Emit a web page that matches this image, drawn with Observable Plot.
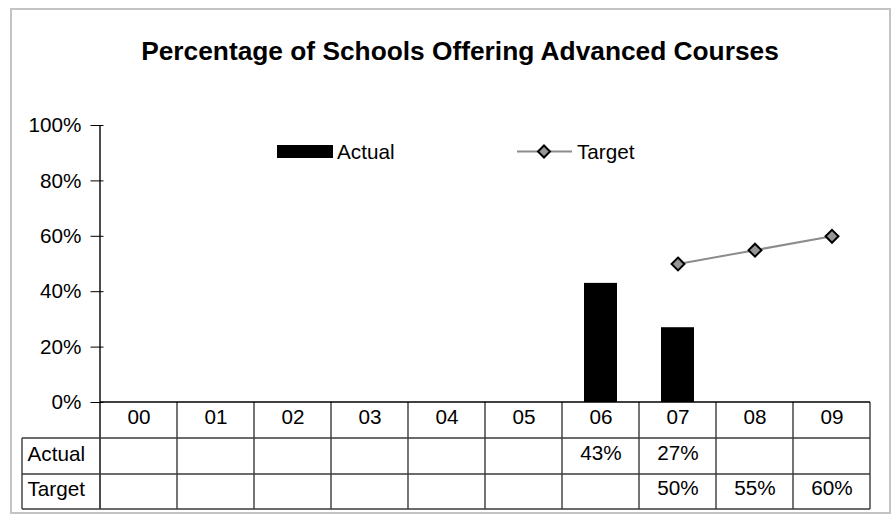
<!DOCTYPE html>
<html>
<head>
<meta charset="utf-8">
<script src="https://cdn.jsdelivr.net/npm/d3@7"></script>
<script src="https://cdn.jsdelivr.net/npm/@observablehq/plot@0.6"></script>
<style>
  html, body { margin: 0; padding: 0; background: #fff; }
  #chart { width: 894px; height: 517px; }
</style>
</head>
<body>
<div id="chart"></div>
<script>
// ---- data ----
const categories = ["00", "01", "02", "03", "04", "05", "06", "07", "08", "09"];
const actual = [null, null, null, null, null, null, 0.43, 0.27, null, null];
const target = [null, null, null, null, null, null, null, 0.50, 0.55, 0.60];
const yTicks = [0, 0.2, 0.4, 0.6, 0.8, 1.0];
const rowLabels = ["Actual", "Target"];
const seriesNames = ["Actual", "Target"];
const titleText = "Percentage of Schools Offering Advanced Courses";

const rows = categories.map((c, i) => ({ cat: c, actual: actual[i], target: target[i] }));
const pct = d3.format(".0%");

// ---- layout ----
const W = 894, H = 517;
const plotLeft = 97, plotRight = 872, plotTop = 125, plotBottom = 402;
const rowEdges = [402, 438, 474, 509]; // header / Actual / Target rows
const tableLeft = 22;
const textShift = 3;
const font = "Arial, 'Liberation Sans', Helvetica, sans-serif";
const fs = 20.7;
const gridColor = "#3a3a3a";
const rowMid = i => (rowEdges[i] + rowEdges[i + 1]) / 2 - plotBottom + textShift;

const chart = Plot.plot({
  width: W,
  height: H,
  marginLeft: plotLeft,
  marginRight: W - plotRight,
  marginTop: plotTop,
  marginBottom: H - plotBottom,
  style: { fontFamily: font, fontSize: fs + "px", background: "white", color: "black", overflow: "visible" },
  x: { domain: categories, padding: 0, axis: null },
  y: { domain: [0, 1], axis: null },
  marks: [
    Plot.barY(rows.filter(d => d.actual != null), {
      x: "cat", y: "actual", fill: "black", insetLeft: 22, insetRight: 22
    }),
    Plot.line(rows.filter(d => d.target != null), {
      x: "cat", y: "target", stroke: "#8c8c8c", strokeWidth: 2
    }),
    Plot.dot(rows.filter(d => d.target != null), {
      x: "cat", y: "target", symbol: "diamond2", r: 5.8, fill: "#969696", stroke: "black", strokeWidth: 2
    }),
    // cross ticks on y axis
    Plot.axisY(yTicks, { tickSize: 13, dx: 6.5, tickFormat: () => "", stroke: "black" }),
    // y tick labels
    Plot.axisY(yTicks, { tickSize: 0, tickPadding: 16, tickFormat: pct, fontSize: fs }),
    // table: category header row
    Plot.text(rows, { x: "cat", text: "cat", frameAnchor: "bottom", dy: rowMid(0), fontSize: fs }),
    // table: actual row
    Plot.text(rows, {
      x: "cat", text: d => d.actual == null ? "" : pct(d.actual), frameAnchor: "bottom", dy: rowMid(1), fontSize: fs
    }),
    // table: target row
    Plot.text(rows, {
      x: "cat", text: d => d.target == null ? "" : pct(d.target), frameAnchor: "bottom", dy: rowMid(2), fontSize: fs
    }),
    // row labels
    Plot.text([rowLabels[0]], {
      text: d => d, frameAnchor: "bottom-left", textAnchor: "start",
      dx: tableLeft + 5 - plotLeft, dy: rowMid(1) + 1, fontSize: fs
    }),
    Plot.text([rowLabels[1]], {
      text: d => d, frameAnchor: "bottom-left", textAnchor: "start",
      dx: tableLeft + 5 - plotLeft, dy: rowMid(2) + 1, fontSize: fs
    })
  ]
});

document.getElementById("chart").appendChild(chart);

// ---- table grid, axis line, title, legend, border (positions from Plot's scales) ----
const svg = d3.select(chart);
const xs = chart.scale("x");
const bw = xs.bandwidth;
const starts = categories.map(c => xs.apply(c));
const x0 = starts[0], x1 = starts[starts.length - 1] + bw;

const g = svg.append("g").attr("stroke", gridColor).attr("stroke-width", 1.4).attr("fill", "none");
// y axis line, continues through table
g.append("line").attr("x1", x0).attr("x2", x0).attr("y1", plotTop).attr("y2", rowEdges[3]).attr("stroke", "black");
// column boundaries
starts.slice(1).concat([x1]).forEach(x => {
  g.append("line").attr("x1", x).attr("x2", x).attr("y1", rowEdges[0]).attr("y2", rowEdges[3]);
});
// x axis line
g.append("line").attr("x1", x0).attr("x2", x1).attr("y1", rowEdges[0]).attr("y2", rowEdges[0]).attr("stroke", "black");
// row lines
rowEdges.slice(1).forEach(y => {
  g.append("line").attr("x1", tableLeft).attr("x2", x1).attr("y1", y).attr("y2", y);
});
// left border of row labels
g.append("line").attr("x1", tableLeft).attr("x2", tableLeft).attr("y1", rowEdges[1]).attr("y2", rowEdges[3]);

// outer chart border
svg.append("rect").attr("x", 11).attr("y", 9).attr("width", 879).attr("height", 504)
  .attr("fill", "none").attr("stroke", "#c4c4c4").attr("stroke-width", 2);

// title
svg.append("text").attr("x", 460).attr("y", 60).attr("text-anchor", "middle")
  .attr("font-family", font).attr("font-size", 26.3).attr("font-weight", "bold").text(titleText);

// legend
const lg = svg.append("g").attr("font-family", font).attr("font-size", fs).attr("text-anchor", "start");
lg.append("rect").attr("x", 277).attr("y", 145).attr("width", 56).attr("height", 13).attr("fill", "black");
lg.append("text").attr("x", 337).attr("y", 158.5).attr("text-anchor", "start").text(seriesNames[0]);
lg.append("line").attr("x1", 517).attr("x2", 572).attr("y1", 151.5).attr("y2", 151.5)
  .attr("stroke", "#8c8c8c").attr("stroke-width", 2);
lg.append("path").attr("d", "M544,145.5L550,151.5L544,157.5L538,151.5Z")
  .attr("fill", "#969696").attr("stroke", "black").attr("stroke-width", 2);
lg.append("text").attr("x", 577).attr("y", 158.5).attr("text-anchor", "start").text(seriesNames[1]);
</script>
</body>
</html>
